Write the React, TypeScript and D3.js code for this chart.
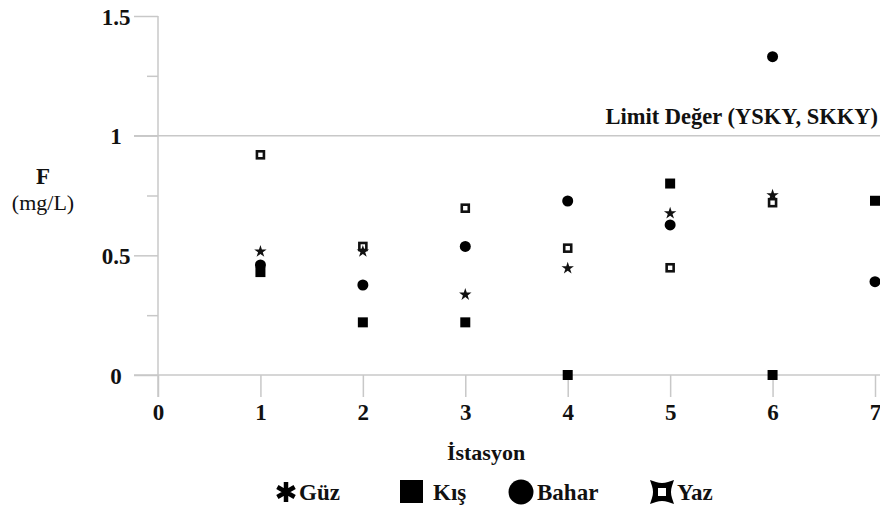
import React, { useEffect, useRef } from "react";
import * as d3 from "d3";

// F (mg/L) by station and season
const stations = [1, 2, 3, 4, 5, 6, 7];
const guz = [0.52, 0.52, 0.34, 0.45, 0.68, 0.755, null];
const kis = [0.43, 0.22, 0.22, 0, 0.8, 0, 0.728];
const bahar = [0.46, 0.376, 0.537, 0.727, 0.627, 1.33, 0.39];
const yaz = [0.92, 0.537, 0.697, 0.53, 0.448, 0.72, null];

const xTicks = [0, 1, 2, 3, 4, 5, 6, 7];
const yMajor = [0, 0.5, 1, 1.5];
const yMinor = [0.25, 0.75, 1.25];
const limitValue = 1;

const W = 880;
const H = 511;
const FONT = "'Liberation Serif', 'Times New Roman', serif";
const GRID = "#c8c8c8";

const App = () => {
  const svgRef = useRef<SVGSVGElement | null>(null);

  useEffect(() => {
    if (!svgRef.current) return;
    const svg = d3.select(svgRef.current);
    svg.selectAll("*").remove();

    const x = d3.scaleLinear().domain([0, 7]).range([158, 875]);
    const y = d3.scaleLinear().domain([0, 1.5]).range([375, 16]);
    const x0 = x(0);

    // y axis: major + minor ticks
    const yAx = svg
      .append("g")
      .attr("transform", `translate(${x0},0)`)
      .call(d3.axisLeft(y).tickValues(yMajor).tickSize(24).tickFormat((d) => String(d)));
    yAx.select(".domain").remove();
    yAx.selectAll("line").attr("stroke", GRID).attr("stroke-width", 1.5);
    yAx
      .selectAll("text")
      .attr("x", -42)
      .attr("text-anchor", "middle")
      .attr("dy", "0.35em")
      .style("font-family", FONT)
      .style("font-weight", "bold")
      .style("font-size", "23px")
      .attr("fill", "#111");

    const yMin = svg
      .append("g")
      .attr("transform", `translate(${x0},0)`)
      .call(d3.axisLeft(y).tickValues(yMinor).tickSize(11).tickFormat(() => ""));
    yMin.select(".domain").remove();
    yMin.selectAll("line").attr("stroke", GRID).attr("stroke-width", 1.5);

    // vertical axis line
    svg
      .append("line")
      .attr("x1", x0)
      .attr("x2", x0)
      .attr("y1", y(1.5))
      .attr("y2", y(0) + 22)
      .attr("stroke", GRID)
      .attr("stroke-width", 1.5);

    // x axis
    const xAx = svg
      .append("g")
      .attr("transform", `translate(0,${y(0)})`)
      .call(d3.axisBottom(x).tickValues(xTicks).tickSize(22).tickFormat((d) => String(d)));
    xAx.select(".domain").remove();
    xAx.selectAll("line").attr("stroke", GRID).attr("stroke-width", 1.5);
    xAx
      .selectAll("text")
      .attr("y", 45)
      .attr("dy", 0)
      .style("font-family", FONT)
      .style("font-weight", "bold")
      .style("font-size", "23px")
      .attr("fill", "#111");

    svg
      .append("line")
      .attr("x1", 134)
      .attr("x2", W)
      .attr("y1", y(0))
      .attr("y2", y(0))
      .attr("stroke", GRID)
      .attr("stroke-width", 1.5);

    // limit line
    svg
      .append("line")
      .attr("x1", 134)
      .attr("x2", W)
      .attr("y1", y(limitValue))
      .attr("y2", y(limitValue))
      .attr("stroke", GRID)
      .attr("stroke-width", 1.5);

    svg
      .append("text")
      .attr("x", 878)
      .attr("y", y(limitValue) - 12)
      .attr("text-anchor", "end")
      .style("font-family", FONT)
      .style("font-weight", "bold")
      .style("font-size", "22.5px")
      .attr("fill", "#111")
      .text("Limit Değer (YSKY, SKKY)");

    // axis titles
    svg
      .append("text")
      .attr("x", 43)
      .attr("y", 184)
      .attr("text-anchor", "middle")
      .style("font-family", FONT)
      .style("font-weight", "bold")
      .style("font-size", "23px")
      .attr("fill", "#111")
      .text("F");
    svg
      .append("text")
      .attr("x", 43)
      .attr("y", 210)
      .attr("text-anchor", "middle")
      .style("font-family", FONT)
      .style("font-size", "22px")
      .attr("fill", "#111")
      .text("(mg/L)");
    svg
      .append("text")
      .attr("x", 486)
      .attr("y", 460)
      .attr("text-anchor", "middle")
      .style("font-family", FONT)
      .style("font-weight", "bold")
      .style("font-size", "22px")
      .attr("fill", "#111")
      .text("İstasyon");

    const pts = (vals: (number | null)[]) =>
      stations
        .map((s, i) => ({ s, v: vals[i] }))
        .filter((d) => d.v !== null) as { s: number; v: number }[];

    const plot = svg.append("g");

    // Kış: filled squares
    plot
      .selectAll(".kis")
      .data(pts(kis))
      .enter()
      .append("rect")
      .attr("x", (d) => x(d.s) - 5)
      .attr("y", (d) => y(d.v) - 5)
      .attr("width", 10)
      .attr("height", 10)
      .attr("fill", "#000");

    // Bahar: filled circles
    plot
      .selectAll(".bahar")
      .data(pts(bahar))
      .enter()
      .append("circle")
      .attr("cx", (d) => x(d.s))
      .attr("cy", (d) => y(d.v))
      .attr("r", 5.5)
      .attr("fill", "#000");

    // Yaz: hollow thick squares
    plot
      .selectAll(".yaz")
      .data(pts(yaz))
      .enter()
      .append("rect")
      .attr("x", (d) => x(d.s) - 3.5)
      .attr("y", (d) => y(d.v) - 3.5)
      .attr("width", 7)
      .attr("height", 7)
      .attr("fill", "#fff")
      .attr("stroke", "#111")
      .attr("stroke-width", 2.6);

    // Güz: stars
    const star = d3.symbol().type(d3.symbolStar).size(48);
    plot
      .selectAll(".guz")
      .data(pts(guz))
      .enter()
      .append("path")
      .attr("transform", (d) => `translate(${x(d.s)},${y(d.v) + 1})`)
      .attr("d", star() as string)
      .attr("fill", "#111");

    // legend
    const leg = svg.append("g").attr("transform", "translate(0,492)");
    const legText = (tx: number, label: string) =>
      leg
        .append("text")
        .attr("x", tx)
        .attr("y", 8)
        .style("font-family", FONT)
        .style("font-weight", "bold")
        .style("font-size", "23px")
        .attr("fill", "#111")
        .text(label);

    leg
      .append("path")
      .attr("transform", "translate(286,0)")
      .attr("d", d3.symbol().type(d3.symbolAsterisk).size(280)() as string)
      .attr("stroke", "#000")
      .attr("stroke-width", 4.5)
      .attr("fill", "none");
    legText(299, "Güz");

    leg.append("rect").attr("x", 400).attr("y", -12).attr("width", 23).attr("height", 23).attr("fill", "#000");
    legText(433, "Kış");

    leg.append("circle").attr("cx", 521).attr("cy", 0).attr("r", 12.5).attr("fill", "#000");
    legText(537, "Bahar");

    // Yaz legend glyph: thick square with concave sides and corner nubs
    const yazGlyph =
      "M-12,-12 L-6,-10 Q0,-8 6,-10 L12,-12 L10,-6 Q8,0 10,6 L12,12 L6,10 Q0,8 -6,10 L-12,12 L-10,6 Q-8,0 -10,-6 Z";
    leg.append("path").attr("transform", "translate(662,0)").attr("d", yazGlyph).attr("fill", "#000");
    leg.append("rect").attr("x", 658).attr("y", -4).attr("width", 8).attr("height", 8).attr("fill", "#fff");
    legText(677, "Yaz");
  }, []);

  return (
    <div style={{ position: "absolute", top: 0, left: 0, background: "#fff" }}>
      <svg ref={svgRef} width={W} height={H} style={{ display: "block" }} />
    </div>
  );
};

export default App;
